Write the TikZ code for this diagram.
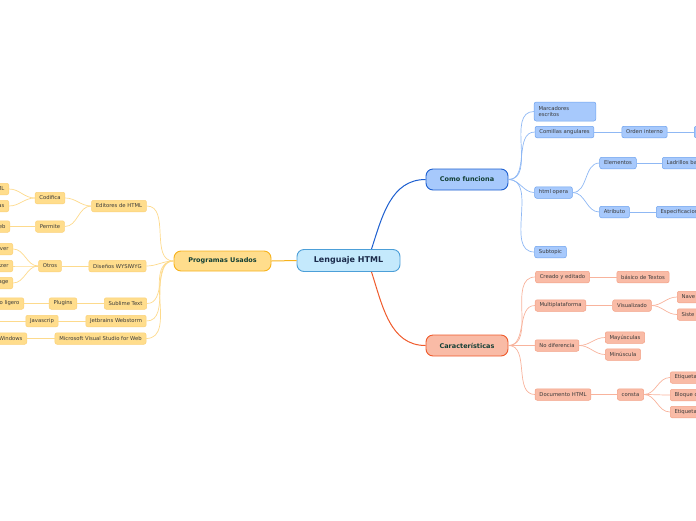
\documentclass[tikz,border=0pt]{standalone}
\usepackage{fontspec}
\setmainfont{DejaVu Sans}
\usetikzlibrary{positioning}
\definecolor{centerfill}{HTML}{C4E9FC}
\definecolor{centerdraw}{HTML}{4C9FD8}
\definecolor{centertext}{HTML}{1B2B4B}
\definecolor{topictext}{HTML}{123F35}
\definecolor{subtext}{HTML}{3A3A3A}
\definecolor{yellowfill}{HTML}{FFDD8C}
\definecolor{yellowdraw}{HTML}{F7B21B}
\definecolor{yellowsubdraw}{HTML}{FBD179}
\definecolor{yellowline}{HTML}{FDDA8C}
\definecolor{bluefill}{HTML}{A7C9FC}
\definecolor{bluedraw}{HTML}{1D5FD0}
\definecolor{bluesubdraw}{HTML}{6EA2EE}
\definecolor{blueline}{HTML}{8FB8F4}
\definecolor{redfill}{HTML}{F9BBA6}
\definecolor{reddraw}{HTML}{EF5A2B}
\definecolor{redsubdraw}{HTML}{F3A186}
\definecolor{redline}{HTML}{F8B39C}

\begin{document}
\begin{tikzpicture}[x=1pt, y=-1pt,
    topic/.style={draw, line width=0.9pt, rounded corners=7pt, minimum height=20pt,
        minimum width=82pt, font={\fontsize{6.5}{7}\bfseries}, text=topictext},
    sub/.style={draw, line width=0.5pt, rounded corners=2pt, minimum height=11.5pt,
        inner xsep=4.3pt, inner ysep=1pt, font={\fontsize{5.3}{6.3}\selectfont}, text=subtext},
    ysub/.style={sub, fill=yellowfill, draw=yellowsubdraw},
    bsub/.style={sub, fill=bluefill, draw=bluesubdraw},
    rsub/.style={sub, fill=redfill, draw=redsubdraw},
    cutleft/.style={anchor=east, text width=36pt, align=right},
    cutright/.style={anchor=west, text width=40pt, align=left},
    link/.style={line width=0.7pt}]
\useasboundingbox (0,0) rectangle (696,520);
\clip (0,0) rectangle (696,520);

% main topics
\node[topic, fill=centerfill, draw=centerdraw, text=centertext, minimum width=103pt,
    minimum height=22pt, font={\fontsize{8}{9}\bfseries}] (lenguaje) at (348.5,260.5) {Lenguaje HTML};
\node[topic, fill=yellowfill, draw=yellowdraw, minimum width=97pt] (programas) at (222.5,261) {Programas Usados};
\node[topic, fill=bluefill, draw=bluedraw, minimum height=21pt] (comofunciona) at (467,179.5) {Como funciona};
\node[topic, fill=redfill, draw=reddraw, minimum height=21pt] (caracteristicas) at (467,345.5) {Características};

\draw[yellowdraw, line width=1pt] (programas.east) -- (lenguaje.west);
\draw[bluedraw, line width=1pt] ([xshift=23pt]lenguaje.north) to[out=72,in=180] (comofunciona.west);
\draw[reddraw, line width=1pt] ([xshift=23pt]lenguaje.south) to[out=-72,in=180] (caracteristicas.west);

% Programas Usados
\begin{scope}[every node/.style={ysub}]
    \node (editores) at (119,206) {Editores de HTML};
    \node (codifica) at (50,198) {Codifica};
    \node (permite) at (50,226.5) {Permite};
    \node[cutleft] (html) at (9,189) {ML};
    \node[cutleft] (tras) at (9,206) {as};
    \node[cutleft] (web) at (10,226.5) {eb};
    \node (disenos) at (117.5,266) {Diseños WYSIWYG};
    \node (otros) at (50,266) {Otros};
    \node[cutleft] (otrover) at (13,249) {ver};
    \node[cutleft] (otrozer) at (13,266) {zer};
    \node[cutleft] (otroage) at (13,283) {age};
    \node (sublime) at (125.5,303.5) {Sublime Text};
    \node (plugins) at (63,303.5) {Plugins};
    \node[cutleft] (ligero) at (24,303.5) {o ligero};
    \node (jetbrains) at (116,321) {Jetbrains Webstorm};
    \node (javascrip) at (42,321) {Javascrip};
    \node (microsoft) at (100.5,338.5) {Microsoft Visual Studio for Web};
    \node[cutleft] (windows) at (27,338.5) {Windows};
\end{scope}
\coordinate (javaleft) at (-10,321);

\begin{scope}[yellowline, link]
    \draw (programas.west) to[out=180,in=0] (editores.east);
    \draw (programas.west) to[out=180,in=0] (disenos.east);
    \draw (programas.west) to[out=180,in=0] (sublime.east);
    \draw (programas.west) to[out=180,in=0] (jetbrains.east);
    \draw (programas.west) to[out=180,in=0] (microsoft.east);
    \draw (editores.west) to[out=180,in=0] (codifica.east);
    \draw (editores.west) to[out=180,in=0] (permite.east);
    \draw (codifica.west) to[out=180,in=0] (html.east);
    \draw (codifica.west) to[out=180,in=0] (tras.east);
    \draw (permite.west) -- (web.east);
    \draw (disenos.west) -- (otros.east);
    \draw (otros.west) to[out=180,in=0] (otrover.east);
    \draw (otros.west) to[out=180,in=0] (otrozer.east);
    \draw (otros.west) to[out=180,in=0] (otroage.east);
    \draw (sublime.west) -- (plugins.east);
    \draw (plugins.west) -- (ligero.east);
    \draw (jetbrains.west) -- (javascrip.east);
    \draw (javascrip.west) -- (javaleft);
    \draw (microsoft.west) -- (windows.east);
\end{scope}

% Como funciona
\begin{scope}[every node/.style={bsub}]
    \node[text width=53pt, align=left, minimum height=19pt] (marcadores) at (565,111.5) {Marcadores\\escritos};
    \node (comillas) at (564.5,132) {Comillas angulares};
    \node (orden) at (644.5,132) {Orden interno};
    \node[cutright] (ordenkid) at (694,132) {};
    \node (htmlopera) at (553.5,192.5) {html opera};
    \node (elementos) at (618,163) {Elementos};
    \node[cutright] (ladrillos) at (662,163) {Ladrillos ba};
    \node (atributo) at (614.5,212) {Atributo};
    \node[cutright] (especificacion) at (656,212) {Especificacion};
    \node (subtopic) at (550.5,252) {Subtopic};
\end{scope}

\begin{scope}[blueline, link]
    \draw (comofunciona.east) to[out=0,in=180] (marcadores.west);
    \draw (comofunciona.east) to[out=0,in=180] (comillas.west);
    \draw (comofunciona.east) to[out=0,in=180] (htmlopera.west);
    \draw (comofunciona.east) to[out=0,in=180] (subtopic.west);
    \draw (comillas.east) -- (orden.west);
    \draw (orden.east) -- (ordenkid.west);
    \draw (htmlopera.east) to[out=0,in=180] (elementos.west);
    \draw (htmlopera.east) to[out=0,in=180] (atributo.west);
    \draw (elementos.east) -- (ladrillos.west);
    \draw (atributo.east) -- (especificacion.west);
\end{scope}

% Caracteristicas
\begin{scope}[every node/.style={rsub}]
    \node (creado) at (562.5,277) {Creado y editado};
    \node (basico) at (643,277) {básico de Textos};
    \node (multi) at (560.5,305.5) {Multiplataforma};
    \node (visualizado) at (632,305.5) {Visualizado};
    \node[cutright] (nave) at (677,297) {Nave};
    \node[cutright] (siste) at (677,314.5) {Siste};
    \node (nodiferencia) at (557,345.5) {No diferencia};
    \node (mayusculas) at (625,337.5) {Mayúsculas};
    \node (minuscula) at (623,354.5) {Minúscula};
    \node (documento) at (563,394.5) {Documento HTML};
    \node (consta) at (630.5,394.5) {consta};
    \node[cutright] (etiquetaa) at (670,377.5) {Etiqueta};
    \node[cutright] (bloque) at (670,395) {Bloque d};
    \node[cutright] (etiquetab) at (670,412) {Etiqueta};
\end{scope}

\begin{scope}[redline, link]
    \draw (caracteristicas.east) to[out=0,in=180] (creado.west);
    \draw (caracteristicas.east) to[out=0,in=180] (multi.west);
    \draw (caracteristicas.east) to[out=0,in=180] (nodiferencia.west);
    \draw (caracteristicas.east) to[out=0,in=180] (documento.west);
    \draw (creado.east) -- (basico.west);
    \draw (multi.east) -- (visualizado.west);
    \draw (visualizado.east) to[out=0,in=180] (nave.west);
    \draw (visualizado.east) to[out=0,in=180] (siste.west);
    \draw (nodiferencia.east) to[out=0,in=180] (mayusculas.west);
    \draw (nodiferencia.east) to[out=0,in=180] (minuscula.west);
    \draw (documento.east) -- (consta.west);
    \draw (consta.east) to[out=0,in=180] (etiquetaa.west);
    \draw (consta.east) to[out=0,in=180] (bloque.west);
    \draw (consta.east) to[out=0,in=180] (etiquetab.west);
\end{scope}
\end{tikzpicture}
\end{document}
